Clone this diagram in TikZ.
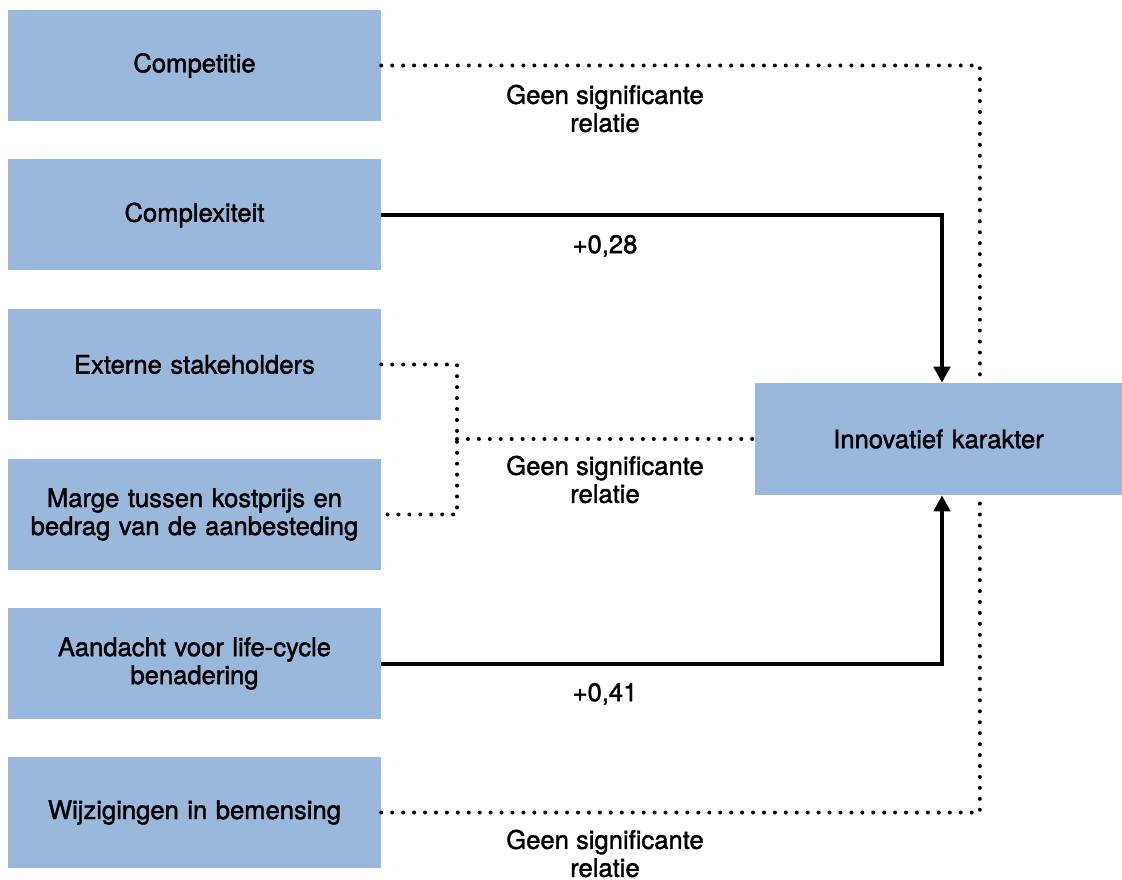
\documentclass[tikz,border=0pt]{standalone}
\usepackage{fontspec}
\setmainfont{TeX Gyre Heros}[FakeBold=1.6]
\usetikzlibrary{arrows.meta}
\definecolor{boxblue}{RGB}{154,184,220}
\tikzset{
  factor/.style={fill=boxblue, draw=none, minimum width=279.75pt, minimum height=83.25pt,
    inner sep=0pt, text width=275pt, align=center, font=\fontsize{19.2}{21}\selectfont},
  outcome/.style={factor, minimum width=275.25pt, minimum height=84pt, text width=265pt},
  effect/.style={line width=3pt, -{Triangle[length=12pt,width=12pt]}},
  noeffect/.style={line width=3pt, line cap=round, dash pattern=on 0pt off 8.2pt},
  lbl/.style={align=center, inner sep=0pt, font=\fontsize{19.2}{21}\selectfont}
}
\begin{document}
\begin{tikzpicture}[x=0.75pt,y=-0.75pt]
\useasboundingbox (0,0) rectangle (1122,880);
% predictors
\node[factor] (c1) at (194.5,65.5) {Competitie};
\node[factor] (c2) at (194.5,215) {Complexiteit};
\node[factor] (c3) at (194.5,364.5) {Externe stakeholders};
\node[factor] (c4) at (194.5,514.5) {Marge tussen kostprijs en\\bedrag van de aanbesteding};
\node[factor] (c5) at (194.5,663.5) {Aandacht voor life-cycle\\benadering};
\node[factor] (c6) at (194.5,812.5) {Wijzigingen in bemensing};
% outcome
\node[outcome] (ik) at (938.5,439) {Innovatief karakter};
% junction of the two stakeholder/marge lines
\coordinate (j) at (457,439);
% connectors
\draw[noeffect] (c1.east) -| ([xshift=31pt]ik.north);
\draw[effect] (c2.east) -| ([xshift=2.6pt]ik.north);
\draw[noeffect] (c3.east) -| (j) |- (c4.east);
\draw[noeffect] (j) -- (ik.west);
\draw[effect] (c5.east) -| ([xshift=2.6pt]ik.south);
\draw[noeffect] (c6.east) -| ([xshift=31pt]ik.south);
% labels
\node[lbl] (l1) at (605,108.5) {Geen significante\\relatie};
\node[lbl] (l2) at (605,246) {+0,28};
\node[lbl] (l3) at (605,479.5) {Geen significante\\relatie};
\node[lbl] (l4) at (605,694) {+0,41};
\node[lbl] (l6) at (605,853.5) {Geen significante\\relatie};
\end{tikzpicture}
\end{document}
